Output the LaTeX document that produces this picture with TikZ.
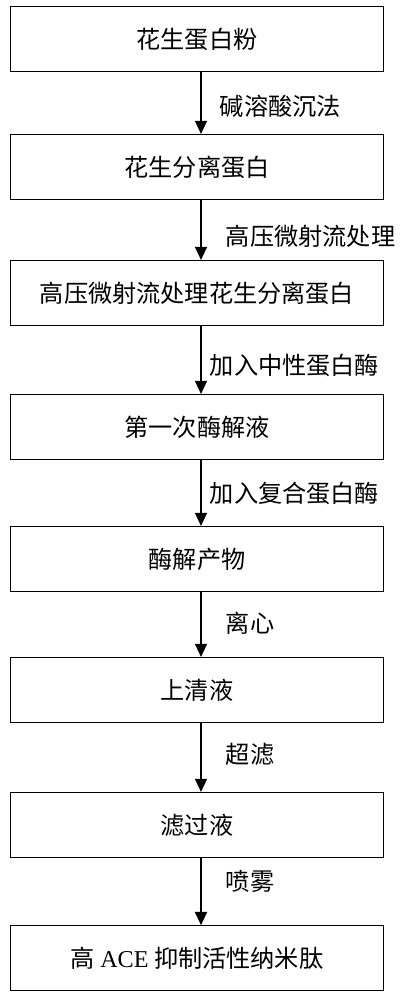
\documentclass[tikz,border=0pt]{standalone}
\usepackage{fontspec}
\setmainfont{Liberation Serif}
\newfontfamily\cjk{Noto Sans CJK SC}
\usetikzlibrary{arrows.meta,positioning}

\tikzset{
  stepbox/.style={draw, line width=0.9pt, minimum width=9.33cm, minimum height=1.62cm,
    font=\cjk\fontsize{17.2}{20}\selectfont, inner sep=0pt},
  flow/.style={-{Triangle[length=0.33cm,width=0.3cm]}, line width=1.3pt},
  steplabel/.style={font=\cjk\fontsize{17.2}{20}\selectfont, inner sep=0pt, anchor=west}
}

\begin{document}
\begin{tikzpicture}[node distance=3.3cm,on grid]
   \useasboundingbox (0,0) rectangle (10.075,-25);
   \node[stepbox] (powder) at (4.925,-0.975) {花生蛋白粉};
   \node[stepbox] (isolate) [below=3.2cm of powder] {花生分离蛋白};
   \node[stepbox] (hpm) [below=3.15cm of isolate] {高压微射流处理花生分离蛋白};
   \node[stepbox] (first) [below=3.35cm of hpm] {第一次酶解液};
   \node[stepbox] (hydro) [below=of first] {酶解产物};
   \node[stepbox] (super) [below=3.275cm of hydro] {上清液};
   \node[stepbox] (filtrate) [below=3.375cm of super] {滤过液};
   \node[stepbox] (peptide) [below=3.33cm of filtrate] {高 {\rmfamily ACE} 抑制活性纳米肽};
    \path[flow]
    ([xshift=1mm]powder.south) edge node[steplabel, pos=0.55, xshift=0.45cm] {碱溶酸沉法} ([xshift=1mm]isolate.north)
    ([xshift=1mm]isolate.south) edge node[steplabel, pos=0.6, xshift=0.6cm] {高压微射流处理} ([xshift=1mm]hpm.north)
    ([xshift=1mm]hpm.south) edge node[steplabel, pos=0.58, xshift=0.2cm] {加入中性蛋白酶} ([xshift=1mm]first.north)
    ([xshift=1mm]first.south) edge node[steplabel, pos=0.5, xshift=0.2cm] {加入复合蛋白酶} ([xshift=1mm]hydro.north)
    ([xshift=1mm]hydro.south) edge node[steplabel, pos=0.48, xshift=0.6cm] {离心} ([xshift=1mm]super.north)
    ([xshift=1mm]super.south) edge node[steplabel, pos=0.45, xshift=0.6cm] {超滤} ([xshift=1mm]filtrate.north)
    ([xshift=1mm]filtrate.south) edge node[steplabel, pos=0.35, xshift=0.6cm] {喷雾} ([xshift=1mm]peptide.north);
\end{tikzpicture}
\end{document}
